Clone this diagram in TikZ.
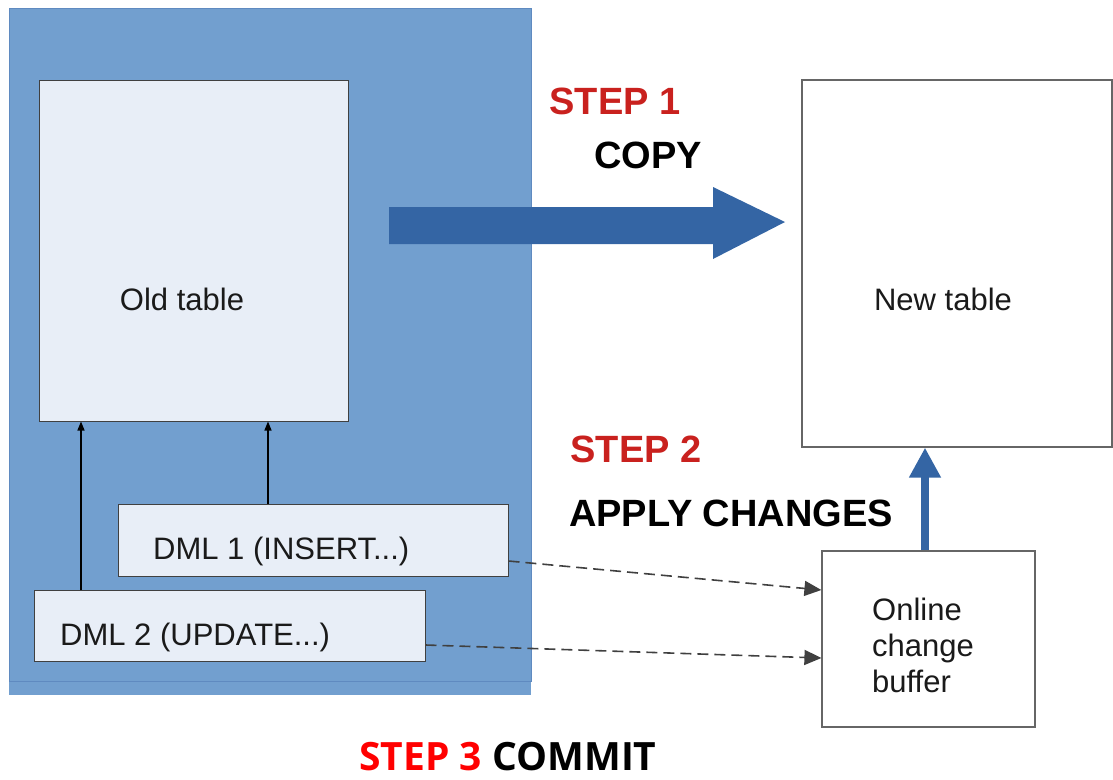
\documentclass[tikz,border=0pt]{standalone}
\usepackage{fontspec}
\setmainfont{Liberation Sans}
\newfontfamily\opensans{Open Sans}
\usetikzlibrary{arrows.meta,calc}
\definecolor{outerblue}{HTML}{729FCF}
\definecolor{outerline}{HTML}{5F8AC0}
\definecolor{boxfill}{HTML}{E8EEF7}
\definecolor{arrowblue}{HTML}{3465A4}
\definecolor{stepred}{HTML}{C9211E}
\definecolor{textdark}{HTML}{1A1A1A}
\begin{document}
\begin{tikzpicture}[x=1pt,y=-1pt,
  inbox/.style={draw=black!75,line width=1pt,fill=boxfill,inner sep=0pt},
  whitebox/.style={draw=black!60,line width=1.2pt,fill=white,inner sep=0pt},
  lbl/.style={font=\fontsize{31}{36}\selectfont,text=textdark,inner sep=0pt},
  steplbl/.style={font=\fontsize{38}{44}\selectfont\bfseries,inner sep=0pt},
  thinarrow/.style={-{Triangle[width=7pt,length=9pt]},line width=1.3pt,black},
  dasharrow/.style={-{Triangle[width=15pt,length=17pt]},line width=1.6pt,black!75,dash pattern=on 11pt off 6pt},
  bluearrow/.style={-{Triangle[width=30pt,length=30pt]},line width=8pt,arrowblue}]
\useasboundingbox (0,0) rectangle (1113,779);
% outer blue region
\fill[outerblue] (9,681) rectangle (531,695);
\draw[outerline,line width=1pt,fill=outerblue] (9,8) rectangle (531,681);
% boxes
\node[inbox,minimum width=309pt,minimum height=341pt] (old) at (193.5,250.5) {};
\node[lbl] at (182,299) {Old table};
\node[inbox,minimum width=390pt,minimum height=72pt] (dml1) at (313,540) {};
\node[lbl,anchor=west] at (153,551) {DML 1 (INSERT...)};
\node[inbox,minimum width=391pt,minimum height=71pt] (dml2) at (229.5,625.5) {};
\node[lbl,anchor=west] at (60,637) {DML 2 (UPDATE...)};
\node[whitebox,minimum width=310pt,minimum height=367pt] (new) at (957,263.5) {};
\node[lbl] at (943,299) {New table};
\node[whitebox,minimum width=213pt,minimum height=176pt] (buf) at (928.5,639) {};
\node[lbl,anchor=west,align=left] at (872,645) {Online\\change\\buffer};
% connectors
\draw[thinarrow] (81,0 |- dml2.north) -- (81,0 |- old.south);
\draw[thinarrow] (268,0 |- dml1.north) -- (268,0 |- old.south);
\draw[dasharrow] ([yshift=-21pt]dml1.east) -- ([yshift=49pt]buf.west);
\draw[dasharrow] ([yshift=-19.5pt]dml2.east) -- ([yshift=-19pt]buf.west);
\draw[bluearrow] (925,0 |- buf.north) -- (925,0 |- new.south);
% big copy arrow
\fill[arrowblue] (389,207) -- (713,207) -- (713,187) -- (785,222) -- (713,259) -- (713,244) -- (389,244) -- cycle;
% labels
\node[steplbl,text=stepred] (s1) at (615,101) {STEP 1};
\node[steplbl,text=black] (c1) at (648,155) {COPY};
\node[steplbl,text=stepred] (s2) at (636,449) {STEP 2};
\node[steplbl,text=black] (c2) at (731,513) {APPLY CHANGES};
\node[font=\opensans\bfseries\fontsize{39}{45}\selectfont,inner sep=0pt] (s3) at (508,757) {\textcolor{red}{STEP 3} COMMIT};
\end{tikzpicture}
\end{document}
